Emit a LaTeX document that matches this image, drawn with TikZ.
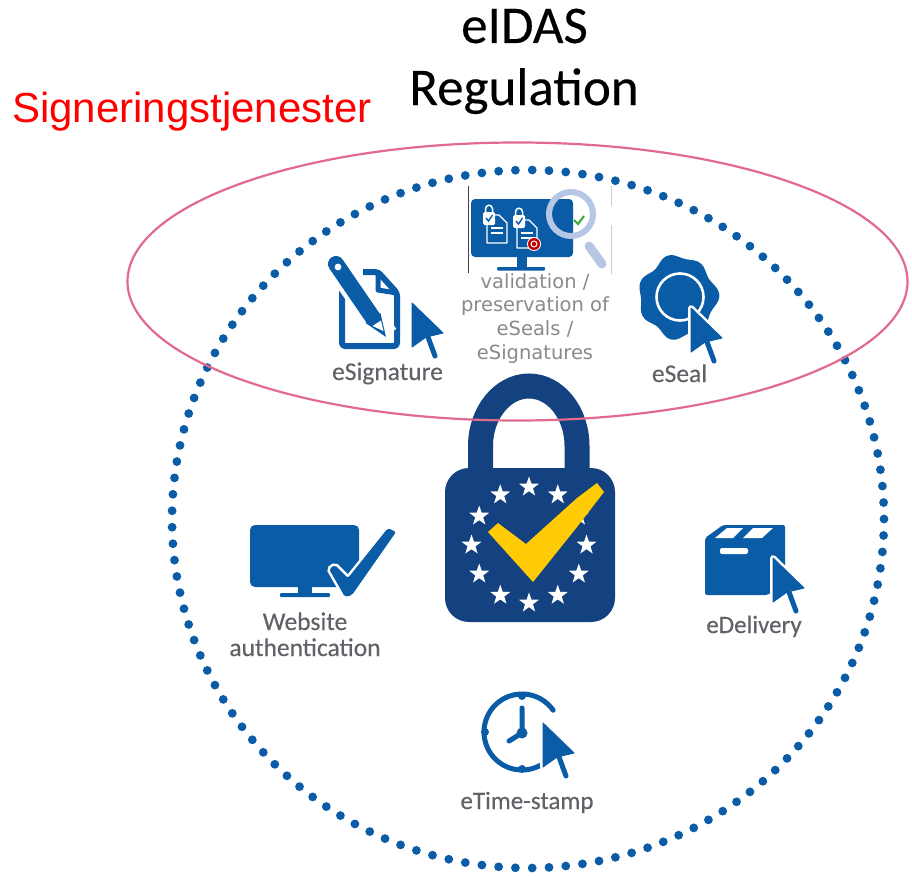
\documentclass[tikz,border=0pt]{standalone}
\usepackage{fontspec}
\setmainfont[FakeBold=0.25]{Carlito}
\newfontfamily\redfont{Liberation Sans}
\newfontfamily\valfont{DejaVu Sans}
\usetikzlibrary{shapes.geometric}
\definecolor{iconblue}{HTML}{0B5CA6}
\definecolor{locknavy}{HTML}{14417F}
\definecolor{checkyellow}{HTML}{FFCB05}
\definecolor{ringpink}{HTML}{E26A8C}
\definecolor{labelgray}{HTML}{5F6266}
\definecolor{valgray}{HTML}{8C8A88}
\definecolor{lensblue}{HTML}{B5C7E4}
\tikzset{
  x=1pt,y=-1pt,
  iconlabel/.style={text=labelgray,inner sep=0pt,anchor=base,align=center},
  eustar/.style={star,star points=5,star point ratio=2.5,fill=white,inner sep=0pt,minimum size=21pt},
  pointer/.pic={
    \fill[white,draw=white,line width=6pt,line join=round] (0,0) -- (31,30) -- (14,34) -- (0,44) -- cycle;
    \draw[white,line width=9pt,line cap=round] (16,36) -- (23,53);
    \fill[iconblue,draw=iconblue,line width=1pt,line join=round] (0,0) -- (31,30) -- (14,34) -- (0,44) -- cycle;
    \draw[iconblue,line width=5pt,line cap=round] (16,34) -- (23,53);
  },
  docicon/.pic={
    \draw[white,line width=1.3pt,line join=round] (0,0) -- (12,0) -- (20,8) -- (20,28) -- (0,28) -- cycle;
    \draw[white,line width=1.1pt] (4,13) -- (16,13) (4,18) -- (16,18);
  },
  lockicon/.pic={
    \draw[white,line width=1.5pt] (2.5,8) -- (2.5,4) .. controls (2.5,-1) and (9.5,-1) .. (9.5,4) -- (9.5,8);
    \fill[white,rounded corners=1.5pt] (0,7) rectangle (12,20);
    \draw[iconblue,line width=1.4pt] (3,13) -- (5.5,16) -- (9.5,10);
  }
}
\begin{document}
\begin{tikzpicture}
\useasboundingbox (0,0) rectangle (912,875);
\fill[white] (0,0) rectangle (912,875);

% dotted circle
\foreach \k in {0,...,132}{
  \fill[iconblue] ({528+356*cos(\k*2.70677)},{519+349*sin(\k*2.70677)}) circle (4.4);
}

% titles
\node[anchor=base,inner sep=0pt,font=\fontsize{53}{53}\selectfont] (titleA) at (524.5,43) {eIDAS};
\node[anchor=base,inner sep=0pt,font=\fontsize{53}{53}\selectfont] (titleB) at (524,105) {Regulation};
\node[anchor=base,inner sep=0pt,text=red,font=\redfont\fontsize{42}{42}\selectfont] (sign) at (192,122) {Signeringstjenester};

% lock
\draw[locknavy,line width=25pt] (480.5,480) -- (480.5,446) .. controls (480.5,413) and (502.5,386) .. (529,386) .. controls (555.5,386) and (577,413) .. (577,446) -- (577,480);
\fill[locknavy,rounded corners=24pt] (445,468) rectangle (615,622);
\foreach \i in {0,...,11}{
  \node[eustar] (star\i) at ({529+57.5*cos(\i*30)},{545+58*sin(\i*30)}) {};
}
\fill[checkyellow] (488,532) -- (498,523) -- (526,544) -- (577,498) -- (597,483) -- (604,492) -- (577,527) -- (533,582) -- cycle;

% eSignature icon
\draw[iconblue,line width=6pt,line join=round,rounded corners=3pt] (342,285) -- (342,346) -- (397,346) -- (397,293) -- (378,272) -- (363,272);
\draw[iconblue,line width=5pt,line join=round] (378,272) -- (378,290) -- (397,293);
\draw[white,line width=25pt] (336,264) -- (386,336);
\draw[iconblue,line width=16pt,line cap=round] (336,264) -- (373,318);
\fill[white] (338,267) circle (3.4);
\fill[iconblue] (365.6,323) -- (380.4,313) -- (386,337) -- cycle;
\fill[white] (372.5,326) -- (381,320.5) -- (383.5,331) -- cycle;
\pic at (412,303) {pointer};
\node[iconlabel,font=\fontsize{25.5}{26}\selectfont] (esig) at (387.5,380) {eSignature};

% validation icon
\draw[black!75,line width=1pt] (468,186) -- (468,273);
\draw[black!20,line width=1pt] (611,186) -- (611,206) (611,225) -- (611,274);
\fill[iconblue,rounded corners=4pt] (471,199) rectangle (573,257);
\fill[iconblue] (517,257) rectangle (527,268);
\fill[iconblue,rounded corners=1pt] (497,267) rectangle (545,270.5);
\pic at (487,215) {docicon};
\pic at (483,205) {lockicon};
\pic at (517,220) {docicon};
\pic at (513,208) {lockicon};
\fill[white] (534,244) circle (7);
\fill[red!75!black] (534,244) circle (6);
\draw[white,line width=1pt] (534,244) circle (3);
\draw[lensblue,line width=6pt] (571,214) circle (22);
\draw[lensblue,line width=9pt,line cap=round] (589,246) -- (602,264);
\draw[green!60!black!80,line width=2pt] (574,220) -- (578,224) -- (584,216);
\node[iconlabel,text=valgray,font=\valfont\fontsize{19.5}{23.6}\selectfont] (valtext) at (535,359) {validation /\\preservation of\\eSeals /\\eSignatures};

% eSeal icon
\fill[iconblue] plot[smooth cycle,samples=61,domain=0:354] ({678+(38+2.2*cos(7*\x+20)+1.2*cos(4*\x))*cos(\x)},{297+(40+2.2*cos(7*\x+20)+1.2*cos(4*\x))*sin(\x)});
\draw[white,line width=2.6pt] (680,297) circle (23.5);
\pic at (691,308) {pointer};
\node[iconlabel,font=\fontsize{25.5}{26}\selectfont] (eseal) at (679.5,382) {eSeal};

% website authentication icon
\fill[iconblue,rounded corners=5pt] (250,525) rectangle (359,587);
\fill[iconblue] (298,587) rectangle (312,594);
\fill[iconblue,rounded corners=1pt] (280,593) rectangle (330,597);
\fill[iconblue,draw=white,line width=5pt,rounded corners=2pt] (329,569) -- (335,565) -- (348,578) -- (388,528) -- (396,532) -- (352,595) -- (345,597) -- cycle;
\fill[iconblue,rounded corners=2pt] (329,569) -- (335,565) -- (348,578) -- (388,528) -- (396,532) -- (352,595) -- (345,597) -- cycle;
\node[iconlabel,font=\fontsize{25.5}{26}\selectfont] (web) at (305,656) {Website\\authentication};

% eDelivery icon
\fill[iconblue,rounded corners=2pt] (705,538) -- (723,525) -- (785,525) -- (785,580) -- (768,595) -- (705,595) -- cycle;
\fill[white] (715,538) -- (727,528) -- (743,528) -- (733,538) -- cycle;
\fill[white] (743,538) -- (753,528) -- (773,528) -- (762,538) -- cycle;
\fill[white,rounded corners=2pt] (720,548) rectangle (748,554);
\pic at (773,558) {pointer};
\node[iconlabel,font=\fontsize{25}{26}\selectfont] (edel) at (754,633) {eDelivery};

% eTime-stamp icon
\draw[iconblue,line width=5pt,domain=-60:-325,samples=60,line cap=round] plot ({522+38*cos(\x)},{732+38*sin(-\x)});
\fill[iconblue] (522,696) circle (4) (485,732) circle (4) (522,769) circle (4);
\draw[iconblue,line width=5pt,line cap=round,line join=round] (522,708) -- (522,733) -- (509,741);
\fill[iconblue] (522,733) circle (5.5);
\pic at (543,723) {pointer};
\node[iconlabel,font=\fontsize{25}{26}\selectfont] (etime) at (527,809) {eTime-stamp};

% pink ring
\draw[ringpink,line width=2.2pt] (517.5,281.5) ellipse [x radius=390,y radius=139];
\end{tikzpicture}
\end{document}
